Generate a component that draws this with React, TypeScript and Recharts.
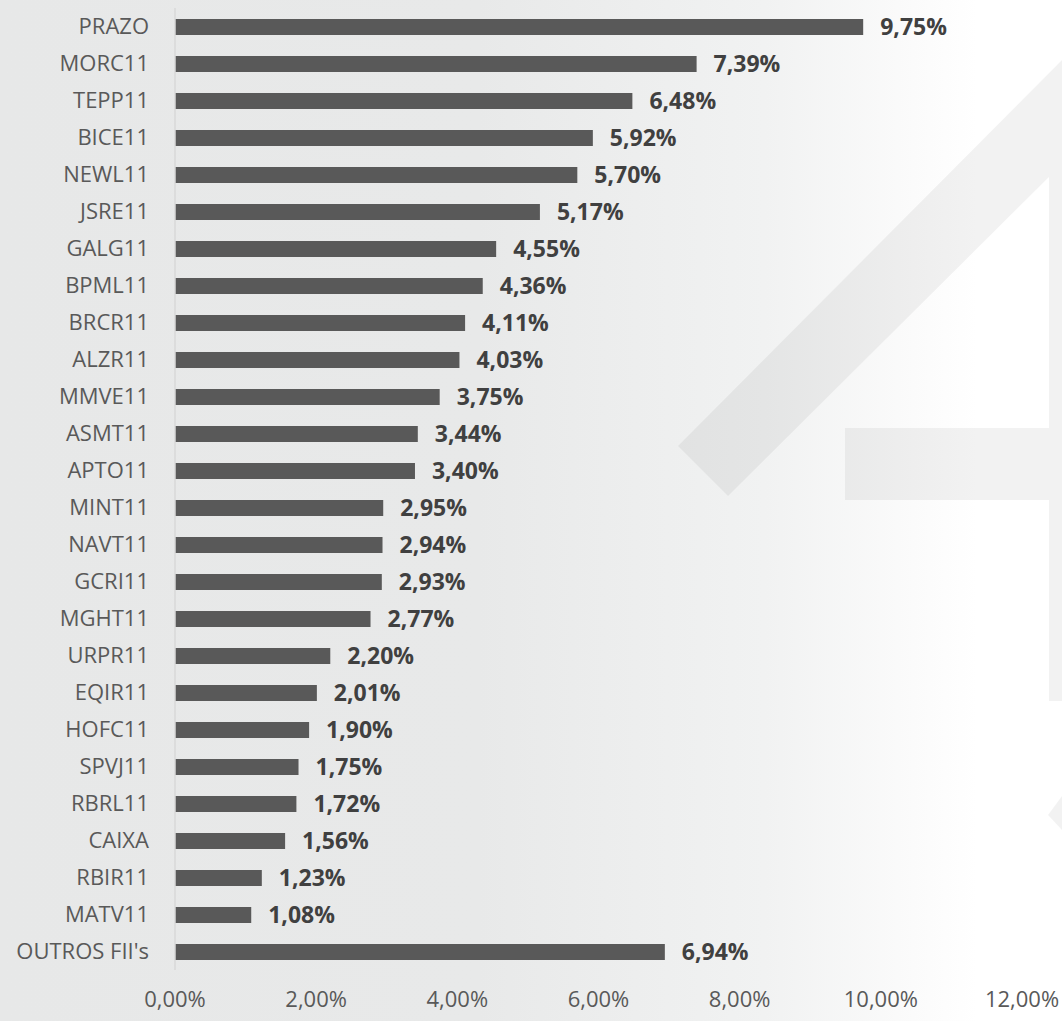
import { BarChart, Bar, XAxis, YAxis, LabelList } from 'recharts';

const funds = [
  'PRAZO', 'MORC11', 'TEPP11', 'BICE11', 'NEWL11', 'JSRE11', 'GALG11', 'BPML11', 'BRCR11',
  'ALZR11', 'MMVE11', 'ASMT11', 'APTO11', 'MINT11', 'NAVT11', 'GCRI11', 'MGHT11', 'URPR11',
  'EQIR11', 'HOFC11', 'SPVJ11', 'RBRL11', 'CAIXA', 'RBIR11', 'MATV11', "OUTROS FII's",
];
const weights = [
  9.75, 7.39, 6.48, 5.92, 5.7, 5.17, 4.55, 4.36, 4.11, 4.03, 3.75, 3.44, 3.4, 2.95, 2.94,
  2.93, 2.77, 2.2, 2.01, 1.9, 1.75, 1.72, 1.56, 1.23, 1.08, 6.94,
];
const xTicks = [0, 2, 4, 6, 8, 10, 12];

const fmt = (v: number) => `${v.toFixed(2).replace('.', ',')}%`;

function Watermark() {
  const fill = 'rgba(0,0,0,0.05)';
  return (
    <svg width={1062} height={1021} style={{ position: 'absolute', left: 0, top: 0 }}>
      <polygon points="1062,60 678,446 728,496 1049,177 1049,701 1062,701" fill={fill} />
      <rect x={845} y={428} width={204} height={72} fill={fill} />
      <polygon points="1062,796 1048,815 1062,830" fill={fill} />
    </svg>
  );
}

export default function App() {
  const data = funds.map((name, i) => ({ name, value: weights[i] }));
  return (
    <div
      style={{
        position: 'absolute', left: 0, top: 0, width: 1062, height: 1021,
        background: 'linear-gradient(to right, #e7e8e8 0%, #e8e9e9 45%, #f1f2f2 72%, #fbfbfb 86%, #ffffff 92%)',
        fontFamily: '"Open Sans", sans-serif',
      }}
    >
      <Watermark />
      <div style={{ position: 'absolute', left: 0, top: 0 }}>
        <BarChart
          width={1062}
          height={1021}
          data={data}
          layout="vertical"
          margin={{ top: 8, right: 40, bottom: 0, left: 0 }}
          barSize={16}
        >
          <XAxis
            type="number"
            domain={[0, 12]}
            ticks={xTicks}
            tickFormatter={fmt}
            axisLine={false}
            tickLine={false}
            tickSize={0}
            tickMargin={21}
            height={51}
            tick={{ fontSize: 22, fill: '#595959' }}
          />
          <YAxis
            type="category"
            dataKey="name"
            width={175}
            axisLine={{ stroke: '#d9d9d9', strokeWidth: 1.5 }}
            tickLine={false}
            tickSize={0}
            tickMargin={26}
            interval={0}
            tick={{ fontSize: 22, fill: '#595959' }}
          />
          <Bar dataKey="value" fill="#595959" isAnimationActive={false}>
            <LabelList
              dataKey="value"
              position="right"
              offset={17}
              formatter={(v: number) => fmt(v)}
              style={{ fontSize: 23, fontWeight: 700, fill: '#404040' }}
            />
          </Bar>
        </BarChart>
      </div>
    </div>
  );
}
